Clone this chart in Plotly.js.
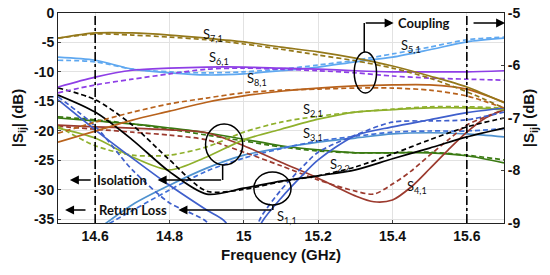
<!DOCTYPE html>
<html>
<head>
<meta charset="utf-8">
<script src="https://cdn.plot.ly/plotly-3.0.1.min.js"></script>
<style>
  html, body { margin: 0; padding: 0; background: #fff; }
  #myDiv1 { width: 550px; height: 275px; }
</style>
</head>
<body>
<div id="myDiv1"></div>
<script>
// frequency grid (GHz)
var freq = [14.5, 14.6, 14.7, 14.8, 14.9, 15.0, 15.1, 15.2, 15.3, 15.4, 15.5, 15.6, 15.7];
var freq41 = [14.5, 14.6, 14.7, 14.8, 14.9, 15.0, 15.1, 15.2, 15.3, 15.35, 15.4, 15.45, 15.5, 15.55, 15.6, 15.65, 15.7];
var freq11Sim = [14.5, 14.6, 14.7, 14.8, 14.9, 14.95, 15.0, 15.05, 15.1, 15.15, 15.2, 15.3, 15.4, 15.5, 15.6, 15.7];
var freq11Meas = [14.5, 14.6, 14.7, 14.8, 14.85, 14.9, 14.95, 15.0, 15.05, 15.1, 15.15, 15.2, 15.3, 15.4, 15.5, 15.6, 15.7];
var freq31 = [14.6, 14.7, 14.8, 14.9, 15.0, 15.1, 15.2, 15.3, 15.4, 15.5, 15.6, 15.7];

// coupling, right axis (dB)
var s71Sim  = [-5.48, -5.38, -5.38, -5.42, -5.48, -5.55, -5.65, -5.74, -5.86, -6.01, -6.20, -6.41, -6.71];
var s71Meas = [-5.48, -5.40, -5.42, -5.46, -5.51, -5.59, -5.69, -5.80, -5.91, -6.05, -6.24, -6.50, -6.81];
var s61Sim  = [-6.41, -6.22, -6.09, -6.05, -6.03, -6.03, -6.05, -6.07, -6.10, -6.12, -6.12, -6.12, -6.10];
var s61Meas = [-6.52, -6.37, -6.26, -6.16, -6.07, -6.05, -6.07, -6.10, -6.14, -6.20, -6.24, -6.26, -6.28];
var s51Sim  = [-5.84, -5.90, -6.07, -6.14, -6.18, -6.16, -6.10, -6.03, -5.93, -5.84, -5.70, -5.55, -5.48];
var s51Meas = [-5.90, -5.93, -6.07, -6.12, -6.14, -6.12, -6.07, -5.99, -5.90, -5.78, -5.65, -5.51, -5.46];
var s81Sim  = [-7.46, -7.25, -7.04, -6.87, -6.70, -6.58, -6.49, -6.43, -6.39, -6.37, -6.37, -6.45, -6.70];
var s81Meas = [-7.29, -7.08, -6.89, -6.73, -6.62, -6.52, -6.47, -6.45, -6.43, -6.43, -6.47, -6.58, -6.81];

// isolation / return loss, left axis (dB)
var s22Sim  = [-13.9, -16.8, -21.5, -26.9, -30.7, -29.7, -28.5, -27.6, -26.6, -24.7, -22.9, -21.0, -19.5];
var s22Meas = [-12.7, -14.7, -19.0, -24.9, -30.2, -29.9, -28.6, -27.6, -26.1, -23.9, -21.5, -19.3, -17.8];
var s21Sim  = [-19.5, -21.2, -24.4, -26.6, -24.4, -21.5, -19.7, -18.0, -16.8, -16.4, -16.1, -16.1, -16.4];
var s21Meas = [-19.2, -22.5, -24.1, -24.1, -22.7, -20.2, -18.5, -17.5, -16.8, -16.3, -15.9, -15.9, -16.1];
var sGrSim  = [-17.8, -18.3, -18.8, -19.5, -20.3, -21.4, -22.5, -23.2, -23.7, -23.7, -23.7, -24.2, -25.4];
var sGrMeas = [-17.6, -18.1, -18.8, -19.7, -20.7, -21.7, -22.7, -23.4, -23.7, -23.7, -23.6, -24.1, -24.9];
var s41Sim  = [-19.0, -19.3, -19.5, -19.8, -20.3, -22.5, -25.3, -28.0, -31.0, -32.0, -31.7, -29.5, -26.4, -23.2, -20.2, -17.8, -16.4];
var s41Meas = [-19.2, -19.7, -20.2, -20.7, -21.5, -23.6, -25.9, -28.3, -30.2, -30.7, -29.0, -26.8, -24.1, -21.5, -19.0, -17.6, -16.4];
var s11Sim  = [-14.7, -19.8, -24.6, -29.2, -33.4, -35.4, -42.0, -35.3, -31.4, -28.0, -24.9, -20.8, -19.3, -18.1, -16.9, -16.1];
var s11Meas = [-14.2, -19.2, -26.6, -32.2, -33.7, -35.4, -40.0, -40.0, -34.2, -30.0, -26.6, -23.6, -20.7, -18.5, -18.3, -18.1, -16.8];
var s31Sim  = [-37.0, -32.5, -29.2, -26.3, -24.1, -22.9, -21.9, -21.2, -20.5, -20.3, -20.5, -21.0];
var s31Meas = [-37.0, -33.5, -30.0, -26.8, -24.6, -23.0, -21.7, -20.9, -20.2, -20.0, -20.0, -19.6];

// axes
var xTicks = [14.6, 14.8, 15.0, 15.2, 15.4, 15.6];
var leftTicks = [0, -5, -10, -15, -20, -25, -30, -35];
var rightTicks = [-5, -6, -7, -8, -9];
var bandEdges = [14.6, 15.6];

function curve(x, y, color, dashed, axis) {
    return {
        x: x,
        y: y,
        type: 'scatter',
        mode: 'lines',
        yaxis: axis,
        line: { color: color, width: 1.7, dash: dashed ? '5px,3px' : 'solid', shape: 'spline', smoothing: 0.8 },
        hoverinfo: 'skip'
    };
}

var traces = [
    curve(freq, sGrSim, '#3a7a12', false, 'y'),
    curve(freq, sGrMeas, '#3a7a12', true, 'y'),
    curve(freq31, s31Sim, '#4f92cf', false, 'y'),
    curve(freq31, s31Meas, '#3f6fd8', true, 'y'),
    curve(freq41, s41Sim, '#9c3a2e', false, 'y'),
    curve(freq41, s41Meas, '#9c3a2e', true, 'y'),
    curve(freq, s21Sim, '#8fb02c', false, 'y'),
    curve(freq, s21Meas, '#8fb02c', true, 'y'),
    curve(freq11Sim, s11Sim, '#3f5fcc', false, 'y'),
    curve(freq11Meas, s11Meas, '#3f5fcc', true, 'y'),
    curve(freq, s22Sim, '#000000', false, 'y'),
    curve(freq, s22Meas, '#000000', true, 'y'),
    curve(freq, s81Sim, '#b8621c', false, 'y2'),
    curve(freq, s81Meas, '#b8621c', true, 'y2'),
    curve(freq, s51Sim, '#5fa8f0', false, 'y2'),
    curve(freq, s51Meas, '#5fa8f0', true, 'y2'),
    curve(freq, s61Sim, '#8e3ee6', false, 'y2'),
    curve(freq, s61Meas, '#8e3ee6', true, 'y2'),
    curve(freq, s71Sim, '#94781a', false, 'y2'),
    curve(freq, s71Meas, '#94781a', true, 'y2')
];

var tickFont = { family: 'Liberation Sans, Arial, sans-serif', size: 14, color: '#111', weight: 'bold' };
var titleFont = { family: 'Liberation Sans, Arial, sans-serif', size: 15, color: '#111', weight: 'bold' };
var noteFont = { family: 'Lato, sans-serif', size: 13, color: '#111', weight: 'bold' };
var labelFont = { family: 'Lato, sans-serif', size: 13, color: '#111' };

var shapes = [];
bandEdges.forEach(function (f) {
    shapes.push({ type: 'line', xref: 'x', yref: 'paper', x0: f, x1: f, y0: 0, y1: 1,
                  line: { color: '#000', width: 1.6, dash: 'dashdot' } });
});
// ellipses and bracket legs
shapes.push({ type: 'circle', xref: 'x', yref: 'y', x0: 15.297, x1: 15.357, y0: -6.61, y1: -13.56, line: { color: '#000', width: 1.5 } });
shapes.push({ type: 'circle', xref: 'x', yref: 'y', x0: 14.897, x1: 14.997, y0: -18.81, y1: -25.76, line: { color: '#000', width: 1.5 } });
shapes.push({ type: 'circle', xref: 'x', yref: 'y', x0: 15.027, x1: 15.127, y0: -26.95, y1: -32.54, line: { color: '#000', width: 1.5 } });
shapes.push({ type: 'line', xref: 'x', yref: 'y', x0: 15.324, x1: 15.324, y0: -6.61, y1: -1.69, line: { color: '#000', width: 1.5 } });
shapes.push({ type: 'line', xref: 'x', yref: 'y', x0: 14.943, x1: 14.943, y0: -25.76, y1: -28.31, line: { color: '#000', width: 1.5 } });
shapes.push({ type: 'line', xref: 'x', yref: 'y', x0: 15.078, x1: 15.078, y0: -32.54, y1: -33.39, line: { color: '#000', width: 1.5 } });

function arrow(x, y, ax) {
    return { x: x, y: y, ax: ax, ay: y, xref: 'x', yref: 'y', axref: 'x', ayref: 'y', text: '',
             showarrow: true, arrowhead: 2, arrowsize: 1.2, arrowwidth: 1.5, arrowcolor: '#000' };
}
function note(x, y, text, font) {
    return { x: x, y: y, xref: 'x', yref: 'y', text: text, showarrow: false, font: font };
}

var annotations = [
    arrow(15.403, -1.69, 15.324),
    arrow(15.703, -1.69, 15.614),
    arrow(14.768, -28.31, 14.943),
    arrow(14.532, -28.31, 14.592),
    arrow(14.824, -33.39, 15.078),
    arrow(14.519, -33.39, 14.578),
    note(15.486, -1.69, 'Coupling', noteFont),
    note(14.672, -28.31, 'Isolation', noteFont),
    note(14.702, -33.39, 'Return Loss', noteFont),
    note(14.916, -3.73, 'S<sub>7,1</sub>', labelFont),
    note(14.932, -7.63, 'S<sub>6,1</sub>', labelFont),
    note(15.035, -11.19, 'S<sub>8,1</sub>', labelFont),
    note(15.451, -5.59, 'S<sub>5,1</sub>', labelFont),
    note(15.186, -16.44, 'S<sub>2,1</sub>', labelFont),
    note(15.186, -20.5, 'S<sub>3,1</sub>', labelFont),
    note(15.259, -25.76, 'S<sub>2,2</sub>', labelFont),
    note(15.465, -29.49, 'S<sub>4,1</sub>', labelFont),
    note(15.116, -34.58, 'S<sub>1,1</sub>', labelFont)
];

var layout = {
    width: 550,
    height: 275,
    margin: { l: 58, r: 46, t: 13, b: 52 },
    paper_bgcolor: '#fff',
    plot_bgcolor: '#fff',
    showlegend: false,
    xaxis: {
        range: [14.5, 15.7],
        tickvals: xTicks,
        ticktext: xTicks.map(function (v) { return String(v); }),
        tickfont: tickFont,
        showgrid: true, gridcolor: '#e2e2e2',
        showline: true, mirror: true, linecolor: '#222', linewidth: 1,
        zeroline: false, ticks: 'inside', ticklen: 3,
        title: { text: 'Frequency (GHz)', font: titleFont, standoff: 6 }
    },
    yaxis: {
        range: [-35.6, 0],
        tickvals: leftTicks,
        ticktext: leftTicks.map(function (v) { return String(v); }),
        tickfont: tickFont,
        showgrid: true, gridcolor: '#e2e2e2',
        showline: true, linecolor: '#222', linewidth: 1,
        zeroline: false, ticks: 'inside', ticklen: 3,
        title: { text: '|S<sub>ij</sub>| (dB)', font: titleFont, standoff: 6 }
    },
    yaxis2: {
        overlaying: 'y', side: 'right',
        range: [-9, -5],
        tickvals: rightTicks,
        ticktext: rightTicks.map(function (v) { return String(v); }),
        tickfont: tickFont,
        showgrid: false,
        showline: true, linecolor: '#222', linewidth: 1,
        zeroline: false, ticks: 'inside', ticklen: 3,
        title: { text: '|S<sub>ij</sub>| (dB)', font: titleFont, standoff: 4 }
    },
    shapes: shapes,
    annotations: annotations
};

Plotly.newPlot('myDiv1', traces, layout, { displayModeBar: false, staticPlot: true });
</script>
</body>
</html>
